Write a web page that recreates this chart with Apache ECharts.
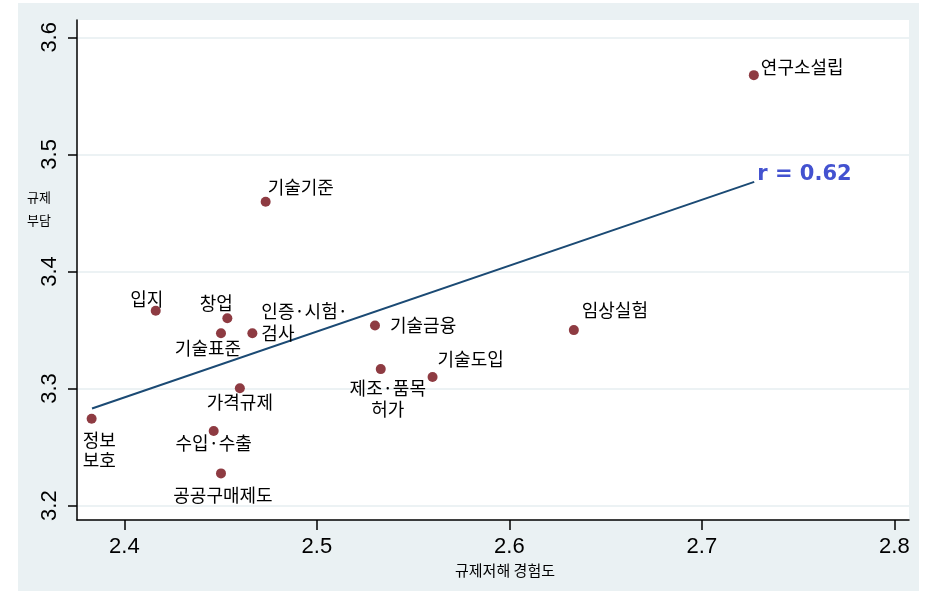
<!DOCTYPE html>
<html>
<head>
<meta charset="utf-8">
<script src="https://cdn.jsdelivr.net/npm/echarts@6/dist/echarts.min.js"></script>
<style>
html,body{margin:0;padding:0;background:#ffffff;}
#chart{width:927px;height:596px;}
</style>
</head>
<body>
<div id="chart"></div>
<script>
// ---- data ----
const names = ['연구소설립','기술기준','입지','창업','기술표준','인증·시험·\n검사','기술금융','임상실험','제조·품목\n허가','기술도입','가격규제','정보\n보호','수입·수출','공공구매제도'];
const xVals = [2.727, 2.4734, 2.4163, 2.4535, 2.4502, 2.4665, 2.5302, 2.6335, 2.5332, 2.5601, 2.4600, 2.3830, 2.4464, 2.4502];
const yVals = [3.5677, 3.4595, 3.3665, 3.3600, 3.3472, 3.3472, 3.3538, 3.3499, 3.3166, 3.3098, 3.3002, 3.2742, 3.2638, 3.2275];
const fitX = [2.3832, 2.7272];
const fitY = [3.2830, 3.4765];
const rText = 'r = 0.62';
const xTicks = [2.4, 2.5, 2.6, 2.7, 2.8];
const yTicks = [3.2, 3.3, 3.4, 3.5, 3.6];
const xTitle = '규제저해 경험도';
const yTitle = '규제\n부담';

// ---- label placement (style) ----
const labelPlace = {
  '연구소설립': {align:'left', dx:7, dy:-8},
  '기술기준': {align:'left', dx:2, dy:-15},
  '입지': {align:'center', dx:-9, dy:-12},
  '창업': {align:'center', dx:-11, dy:-15},
  '기술표준': {align:'center', dx:-13, dy:15},
  '인증·시험·\n검사': {align:'left', dx:9, dy:11, va:'bottom', lh:22},
  '기술금융': {align:'left', dx:15, dy:0},
  '임상실험': {align:'center', dx:41, dy:-20},
  '제조·품목\n허가': {align:'center', dx:7, dy:30, lh:21},
  '기술도입': {align:'left', dx:5, dy:-18},
  '가격규제': {align:'center', dx:0, dy:14},
  '정보\n보호': {align:'left', dx:-9, dy:31, lh:20},
  '수입·수출': {align:'center', dx:0, dy:12},
  '공공구매제도': {align:'center', dx:2, dy:22}
};

const pts = names.map((n, i) => {
  const p = labelPlace[n];
  return {
    name: n,
    value: [xVals[i], yVals[i]],
    label: {
      show: true,
      position: 'inside',
      formatter: n,
      align: p.align,
      verticalAlign: p.va || 'middle',
      lineHeight: p.lh || 20,
      offset: [p.dx, p.dy]
    }
  };
});

const chart = echarts.init(document.getElementById('chart'), null, {renderer:'canvas'});
const gridColor = '#e6eef0';
chart.setOption({
  animation: false,
  backgroundColor: '#ffffff',
  graphic: [
    {type:'rect', z:-10, shape:{x:18, y:3, width:901, height:588}, style:{fill:'#eaf1f3'}},
    {type:'text', z:10, left:27, top:186, style:{text:yTitle, font:'13px "Noto Sans CJK KR"', fill:'#000', lineHeight:23}}
  ],
  grid: {left:77, top:20, right:18, bottom:76, show:true, backgroundColor:'#ffffff', borderWidth:0},
  xAxis: {
    type:'value', min:2.3754, max:2.8076,
    name: xTitle, nameLocation:'middle', nameGap:43,
    nameTextStyle:{fontFamily:'Noto Sans CJK KR', fontSize:15, color:'#000', padding:[0,0,0,24]},
    axisLine:{show:true, lineStyle:{color:'#000', width:1.5}},
    axisTick:{show:true, length:10, lineStyle:{color:'#000', width:1.5}, customValues:xTicks},
    axisLabel:{customValues:xTicks, fontFamily:'Liberation Sans', fontSize:22, color:'#000', margin:16, formatter:v=>v.toFixed(1)},
    splitLine:{show:false}
  },
  yAxis: {
    type:'value', min:3.1877, max:3.6148,
    axisLine:{show:true, lineStyle:{color:'#000', width:1.5}},
    axisTick:{show:true, length:9, lineStyle:{color:'#000', width:1.5}, customValues:yTicks},
    axisLabel:{customValues:yTicks, fontFamily:'Liberation Sans', fontSize:22, color:'#000', margin:16, rotate:90, formatter:v=>v.toFixed(1)},
    splitLine:{show:true, lineStyle:{color:gridColor, width:1.5}}
  },
  series: [
    {
      type:'line', data: fitX.map((x,i)=>[x, fitY[i]]), symbol:'none', silent:true,
      lineStyle:{color:'#1b4a74', width:2},
      endLabel:{show:true, formatter:rText, color:'#4352d0', fontFamily:'DejaVu Sans', fontWeight:'bold', fontSize:21, distance:3, offset:[0,-7]},
      z:2
    },
    {
      type:'scatter', data: pts, symbol:'circle', symbolSize:10,
      itemStyle:{color:'#8e3b42', opacity:1},
      label:{fontFamily:'Noto Sans CJK KR', fontSize:18, color:'#000'},
      z:3
    }
  ]
});
</script>
</body>
</html>
